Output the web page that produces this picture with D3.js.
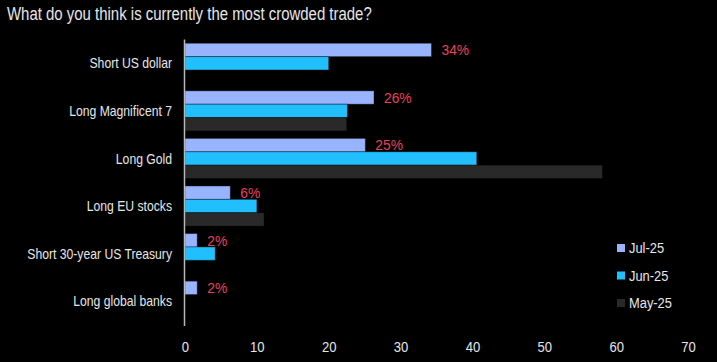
<!DOCTYPE html>
<html>
<head>
<meta charset="utf-8">
<script src="https://cdn.jsdelivr.net/npm/d3@7"></script>
<style>
    html, body { margin: 0; padding: 0; background: #000; }
    svg { display: block; }
    text { font-family: "Liberation Sans", Arial, sans-serif; }
</style>
</head>
<body>
<svg class="chart"></svg>
<script>
var categories = ['Short US dollar', 'Long Magnificent 7', 'Long Gold', 'Long EU stocks', 'Short 30-year US Treasury', 'Long global banks'];
var seriesNames = ['Jul-25', 'Jun-25', 'May-25'];
var jul25 = [34.3, 26.3, 25.1, 6.3, 1.7, 1.7];
var jun25 = [20.0, 22.6, 40.6, 10.0, 4.2, null];
var may25 = [null, 22.5, 58.1, 11.0, null, null];
var xTicks = [0, 10, 20, 30, 40, 50, 60, 70];

var colors = ['#99b4ff', '#22bfff', '#292929'];
var series = [jul25, jun25, may25];

var width = 717, height = 362;
var margin = {top: 39.5, right: 29, bottom: 37, left: 185};
// the original face is a condensed one, so texts get squeezed horizontally
var squeeze = 0.84;

function placeText(sel, xFn, yFn, sx) {
    sel.attr('transform', function(d, i) {
        var px = typeof xFn === 'function' ? xFn(d, i) : xFn;
        var py = typeof yFn === 'function' ? yFn(d, i) : yFn;
        return 'translate(' + px + ',' + py + ') scale(' + (sx || squeeze) + ',1)';
    });
    return sel;
}

var svg = d3.select('svg')
    .attr('width', width)
    .attr('height', height);

svg.append('rect')
    .attr('width', width)
    .attr('height', height)
    .attr('fill', '#000');

svg.append('text')
    .attr('fill', '#e6e6e6')
    .style('font-size', '17.5px')
    .text('What do you think is currently the most crowded trade?')
    .call(placeText, 7, 19.5, 0.855);

var x = d3.scaleLinear().domain([0, 70]).range([margin.left, width - margin.right]);
var y0 = d3.scaleBand().domain(categories).range([margin.top, height - margin.bottom]).paddingInner(0.158).paddingOuter(0.079);
var y1 = d3.scaleBand().domain(seriesNames).range([0, y0.bandwidth()]);

var groups = svg.append('g')
    .selectAll('g')
    .data(categories)
    .enter().append('g')
    .attr('transform', function(d) { return 'translate(0,' + y0(d) + ')'; });

groups.selectAll('rect')
    .data(function(d, i) {
        return series.map(function(s, j) { return {name: seriesNames[j], value: s[i], color: colors[j]}; });
    })
    .enter().filter(function(d) { return d.value != null; })
    .append('rect')
    .attr('x', x(0))
    .attr('y', function(d) { return y1(d.name); })
    .attr('width', function(d) { return x(d.value) - x(0); })
    .attr('height', y1.bandwidth())
    .attr('fill', function(d) { return d.color; })
    .attr('stroke', 'rgba(0,0,0,0.35)')
    .attr('stroke-width', 1);

// Jul-25 value labels
groups.append('text')
    .attr('dy', '0.35em')
    .attr('fill', '#e8435c')
    .style('font-size', '15px')
    .text(function(d, i) { return Math.round(jul25[i]) + '%'; })
    .call(placeText, function(d, i) { return x(jul25[i]) + 10; }, y1('Jul-25') + y1.bandwidth() / 2, 0.92);

// category labels
svg.append('g')
    .selectAll('text')
    .data(categories)
    .enter().append('text')
    .attr('dy', '0.35em')
    .attr('text-anchor', 'end')
    .attr('fill', '#e6e6e6')
    .style('font-size', '14.5px')
    .text(function(d) { return d; })
    .call(placeText, margin.left - 13, function(d) { return y0(d) + y0.bandwidth() / 2; });

// vertical axis line
svg.append('line')
    .attr('x1', x(0) - 0.5)
    .attr('x2', x(0) - 0.5)
    .attr('y1', margin.top)
    .attr('y2', height - margin.bottom + 1)
    .attr('stroke', '#b8b8b8')
    .attr('stroke-width', 1.5);

// x axis
var xAxis = svg.append('g')
    .attr('transform', 'translate(0,' + (height - margin.bottom) + ')')
    .call(d3.axisBottom(x).tickValues(xTicks).tickSize(0).tickPadding(16));
xAxis.select('.domain').remove();
xAxis.selectAll('text')
    .attr('fill', '#e6e6e6')
    .attr('transform', 'scale(0.87,1)')
    .style('font-size', '15px')
    .style('font-family', '"Liberation Sans", Arial, sans-serif');

// legend
var legend = svg.append('g')
    .selectAll('g')
    .data(seriesNames)
    .enter().append('g')
    .attr('transform', function(d, i) { return 'translate(617,' + (244 + i * 27.5) + ')'; });

legend.append('rect')
    .attr('width', 8)
    .attr('height', 8)
    .attr('fill', function(d, i) { return colors[i]; });

legend.append('text')
    .attr('dy', '0.35em')
    .attr('fill', '#e6e6e6')
    .style('font-size', '15px')
    .text(function(d) { return d; })
    .call(placeText, 12, 4, 0.86);
</script>
</body>
</html>
